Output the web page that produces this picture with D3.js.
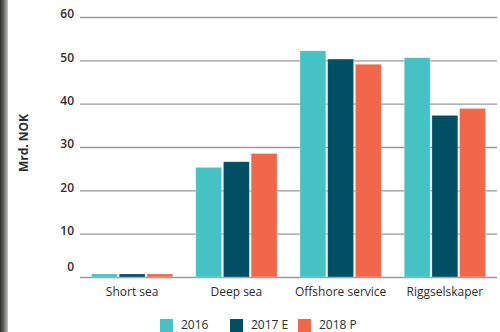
<!DOCTYPE html>
<html>
<head>
<meta charset="utf-8">
<script src="https://cdn.jsdelivr.net/npm/d3@7"></script>
<style>
  html, body { margin: 0; padding: 0; background: #fff; }
  svg { display: block; }
  text { font-family: "Open Sans", "Noto Sans", sans-serif; fill: #2e2e2e; }
</style>
</head>
<body>
<svg id="chart" width="500" height="332"></svg>
<script>
// Segments and yearly values (billion NOK)
const categories = ["Short sea", "Deep sea", "Offshore service", "Riggselskaper"];
const seriesNames = ["2016", "2017 E", "2018 P"];
const values2016 = [0.7, 25.3, 52.2, 50.6];
const values2017 = [0.7, 26.6, 50.3, 37.3];
const values2018 = [0.7, 28.5, 49.1, 38.9];
const yTicks = [0, 10, 20, 30, 40, 50, 60];
const colors = ["#46c2c4", "#004f64", "#f2664a"];

const seriesValues = [values2016, values2017, values2018];
const table = categories.map((c, i) => ({
  category: c,
  values: seriesNames.map((s, j) => ({ series: s, value: seriesValues[j][i] }))
}));

const svg = d3.select("#chart");

// Dark strip along the left edge
const grad = svg.append("defs").append("linearGradient")
  .attr("id", "edge").attr("x1", "0").attr("x2", "1");
grad.append("stop").attr("offset", "0").attr("stop-color", "#2a2a2a");
grad.append("stop").attr("offset", "0.5").attr("stop-color", "#6a6a66");
grad.append("stop").attr("offset", "1").attr("stop-color", "#c8c8c2");
svg.append("rect").attr("x", 0).attr("y", 0).attr("width", 8).attr("height", 332)
  .attr("fill", "url(#edge)");

const x0 = d3.scaleBand().domain(categories).range([80, 497])
  .paddingInner(0.22).paddingOuter(0.11);
const x1 = d3.scaleBand().domain(seriesNames).range([0, x0.bandwidth()])
  .paddingInner(0.065);
const y = d3.scaleLinear().domain([0, 60]).range([277, 17]);

// Gridlines with value labels
const yAxis = svg.append("g").attr("transform", "translate(80,0)")
  .call(d3.axisRight(y).tickValues(yTicks).tickSize(417).tickFormat(""));
yAxis.select(".domain").remove();
yAxis.selectAll(".tick line").attr("stroke", "#9a9a9a").attr("stroke-width", 1.3);

svg.append("g").selectAll("text").data(yTicks).join("text")
  .attr("x", 74)
  .attr("y", d => y(d) - (d === 0 ? 9 : 2))
  .attr("text-anchor", "end")
  .attr("dominant-baseline", "middle")
  .attr("font-size", 12)
  .attr("font-weight", 600)
  .text(d => d);

// Bars
svg.append("g").selectAll("g").data(table).join("g")
  .attr("transform", d => `translate(${x0(d.category)},0)`)
  .selectAll("rect").data(d => d.values).join("rect")
  .attr("x", d => x1(d.series))
  .attr("width", x1.bandwidth())
  .attr("y", d => y(d.value))
  .attr("height", d => y(0) - y(d.value))
  .attr("fill", (d, i) => colors[i])
  .attr("stroke", "#ffffff").attr("stroke-opacity", 0.35).attr("stroke-width", 0.8);

// Category labels
svg.append("g").selectAll("text").data(categories).join("text")
  .attr("x", d => x0(d) + x0.bandwidth() / 2)
  .attr("y", 296)
  .attr("text-anchor", "middle")
  .attr("font-size", 12)
  .attr("font-weight", 500)
  .text(d => d);

// Y axis title
svg.append("text")
  .attr("transform", "translate(28,143) rotate(-90)")
  .attr("text-anchor", "middle")
  .attr("font-size", 12)
  .attr("font-weight", "bold")
  .text("Mrd. NOK");

// Legend
const legendX = [160, 230, 298];
const legend = svg.append("g").selectAll("g").data(seriesNames).join("g")
  .attr("transform", (d, i) => `translate(${legendX[i]},319)`);
legend.append("rect").attr("width", 13).attr("height", 13)
  .attr("fill", (d, i) => colors[i]);
legend.append("text").attr("x", 21).attr("y", 7)
  .attr("dominant-baseline", "middle")
  .attr("font-size", 12)
  .attr("font-weight", 500)
  .text(d => d);
</script>
</body>
</html>
